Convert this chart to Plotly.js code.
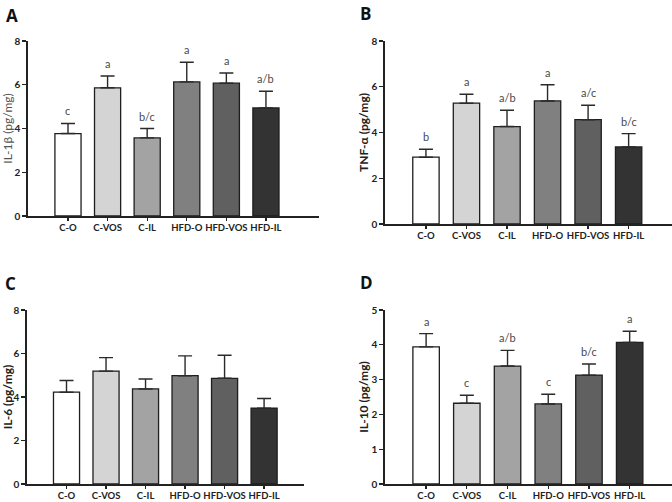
<!DOCTYPE html>
<html>
<head>
<meta charset="utf-8">
<script src="https://cdn.plot.ly/plotly-3.0.1.min.js"></script>
<style>html,body{margin:0;padding:0;background:#fff;}#chart{width:672px;height:502px;}</style>
</head>
<body>
<div id="chart"></div>
<script>
// Categories (groups)
const groups = ["C-O", "C-VOS", "C-IL", "HFD-O", "HFD-VOS", "HFD-IL"];
const barColors = ["#ffffff", "#d4d4d4", "#a3a3a3", "#808080", "#606060", "#333333"];

// Panel A: IL-1β
const il1bMean = [3.77, 5.86, 3.57, 6.13, 6.07, 4.94];
const il1bErr  = [0.46, 0.54, 0.43, 0.90, 0.47, 0.76];
const il1bSig  = ["c", "a", "b/c", "a", "a", "a/b"];

// Panel B: TNF-α
const tnfMean = [2.92, 5.28, 4.26, 5.38, 4.56, 3.37];
const tnfErr  = [0.35, 0.39, 0.71, 0.71, 0.63, 0.58];
const tnfSig  = ["b", "a", "a/b", "a", "a/c", "b/c"];

// Panel C: IL-6
const il6Mean = [4.22, 5.19, 4.37, 4.98, 4.86, 3.49];
const il6Err  = [0.54, 0.62, 0.46, 0.91, 1.06, 0.44];
const il6Sig  = ["", "", "", "", "", ""];

// Panel D: IL-10
const il10Mean = [3.94, 2.32, 3.39, 2.30, 3.13, 4.07];
const il10Err  = [0.38, 0.23, 0.45, 0.28, 0.32, 0.32];
const il10Sig  = ["a", "c", "a/b", "c", "b/c", "a"];

const FONT = "Lato, 'Open Sans', sans-serif";
const AXC = "#222222";

const panels = [
  {mean: il1bMean, err: il1bErr, sig: il1bSig, title: "IL-1β (pg/mg)", yr: [0, 8], dt: 2, tw: "normal", tc: "#555555",
   xd: [28/672, 319/672], yd: [(502-216)/502, (502-41)/502], xr: [-1.01, 6.34], label: "A", lx: 4, ly: 2, bw: 0.66},
  {mean: tnfMean, err: tnfErr, sig: tnfSig, title: "TNF-α (pg/mg)", yr: [0, 8], dt: 2, tw: "bold", tc: AXC,
   xd: [385/672, 1.0], yd: [(502-224)/502, (502-41)/502], xr: [-1.01, 6.07], label: "B", lx: 358, ly: 0, bw: 0.65},
  {mean: il6Mean, err: il6Err, sig: il6Sig, title: "IL-6 (pg/mg)", yr: [0, 8], dt: 2, tw: "bold", tc: AXC,
   xd: [27/672, 304/672], yd: [(502-484)/502, (502-310)/502], xr: [-1.0, 6.01], label: "C", lx: 3, ly: 270, bw: 0.66},
  {mean: il10Mean, err: il10Err, sig: il10Sig, title: "IL-10 (pg/mg)", yr: [0, 5], dt: 1, tw: "bold", tc: AXC,
   xd: [385/672, 1.0], yd: [(502-484)/502, (502-310)/502], xr: [-1.01, 6.04], label: "D", lx: 358, ly: 269, bw: 0.65}
];

const data = [];
const layout = {
  width: 672, height: 502,
  margin: {l: 0, r: 0, t: 0, b: 0},
  paper_bgcolor: "#ffffff", plot_bgcolor: "rgba(0,0,0,0)",
  showlegend: false,
  font: {family: FONT, color: AXC},
  annotations: []
};

panels.forEach((p, i) => {
  const n = i === 0 ? "" : String(i + 1);
  const xa = "x" + n, ya = "y" + n;
  data.push({
    type: "bar", x: groups, y: p.mean, xaxis: xa, yaxis: ya,
    width: p.bw,
    marker: {color: barColors, line: {color: "#1e1e1e", width: 1.3}},
    error_y: {type: "data", symmetric: false, array: p.err, arrayminus: p.err.map(() => 0),
              color: "#2a2a2a", thickness: 1.4, width: 7},
    hoverinfo: "none"
  });
  layout["xaxis" + n] = {
    domain: p.xd, anchor: ya, type: "category", range: p.xr,
    showline: true, linecolor: AXC, linewidth: 1.6,
    ticks: "outside", ticklen: 3, tickwidth: 1.3, tickcolor: AXC,
    ticklabelstandoff: -1,
    showgrid: false, zeroline: false, fixedrange: true,
    tickfont: {family: FONT, size: 9.5, color: AXC, weight: "bold"}
  };
  layout["yaxis" + n] = {
    domain: p.yd, anchor: xa, range: p.yr, dtick: p.dt,
    showline: true, linecolor: AXC, linewidth: 1.6,
    ticks: "outside", ticklen: 4, tickwidth: 1.3, tickcolor: AXC,
    showgrid: false, zeroline: false, fixedrange: true,
    tickfont: {family: FONT, size: 10, color: AXC, weight: "bold"},
    title: {text: p.title, standoff: 0, font: {family: FONT, size: 12, color: p.tc, weight: p.tw}}
  };
  // significance letters
  p.sig.forEach((s, k) => {
    if (!s) return;
    layout.annotations.push({
      xref: xa, yref: ya, x: groups[k], y: p.mean[k] + p.err[k],
      text: s, showarrow: false, yanchor: "bottom", yshift: 4,
      font: {family: FONT, size: 11, color: "#4a4a4a"}
    });
  });
  // panel label
  layout.annotations.push({
    xref: "paper", yref: "paper", x: p.lx / 672, y: 1 - p.ly / 502,
    xanchor: "left", yanchor: "top", text: p.label, showarrow: false,
    font: {family: "'Open Sans', sans-serif", size: 17, color: "#111111", weight: "bold"}
  });
});

Plotly.newPlot("chart", data, layout, {displayModeBar: false, staticPlot: true});
</script>
</body>
</html>
